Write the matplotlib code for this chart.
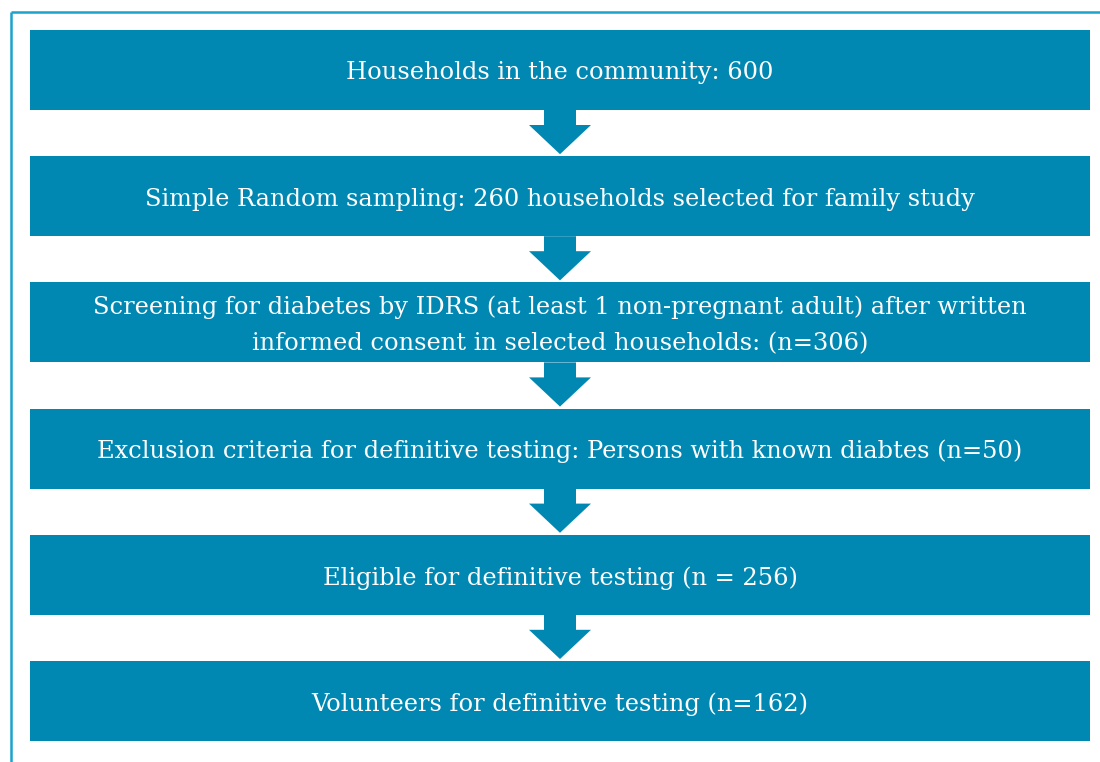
import matplotlib
matplotlib.use("Agg")
import matplotlib.pyplot as plt
from matplotlib.patches import Rectangle, Polygon

# Flowchart steps (top to bottom)
steps = [
    "Households in the community: 600",
    "Simple Random sampling: 260 households selected for family study",
    "Screening for diabetes by IDRS (at least 1 non-pregnant adult) after written\ninformed consent in selected households: (n=306)",
    "Exclusion criteria for definitive testing: Persons with known diabtes (n=50)",
    "Eligible for definitive testing (n = 256)",
    "Volunteers for definitive testing (n=162)",
]

box_color = "#0088b3"
border_color = "#1ba3cc"

W, H = 1100, 762
fig = plt.figure(figsize=(W / 100, H / 100), dpi=100)
ax = fig.add_axes([0, 0, 1, 1])
ax.set_xlim(0, W)
ax.set_ylim(H, 0)
ax.axis("off")

# outer frame (top and left lines only)
ax.plot([10.5, W], [12, 12], color=border_color, lw=1.8, solid_capstyle="butt")
ax.plot([10.5, 10.5], [12, H], color=border_color, lw=1.8, solid_capstyle="butt")

x0, x1 = 30, 1090
box_h = 80
pitch = 126.2
top0 = 30
cx = (x0 + x1) / 2

for i, label in enumerate(steps):
    top = top0 + i * pitch
    ax.add_patch(Rectangle((x0, top), x1 - x0, box_h, color=box_color, lw=0))
    ax.text(cx, top + box_h / 2 + 3, label, color="white", ha="center", va="center",
            fontsize=17.35, family="DejaVu Serif", linespacing=1.75)
    if i < len(steps) - 1:
        bot = top + box_h
        nxt = top + pitch
        shaft_w, head_w = 32, 62
        head_y = bot + 15
        pts = [(cx - shaft_w / 2, bot), (cx + shaft_w / 2, bot),
               (cx + shaft_w / 2, head_y), (cx + head_w / 2, head_y),
               (cx, nxt - 2), (cx - head_w / 2, head_y),
               (cx - shaft_w / 2, head_y)]
        ax.add_patch(Polygon(pts, closed=True, color=box_color, lw=0))

fig.savefig("out.png", dpi=100)
